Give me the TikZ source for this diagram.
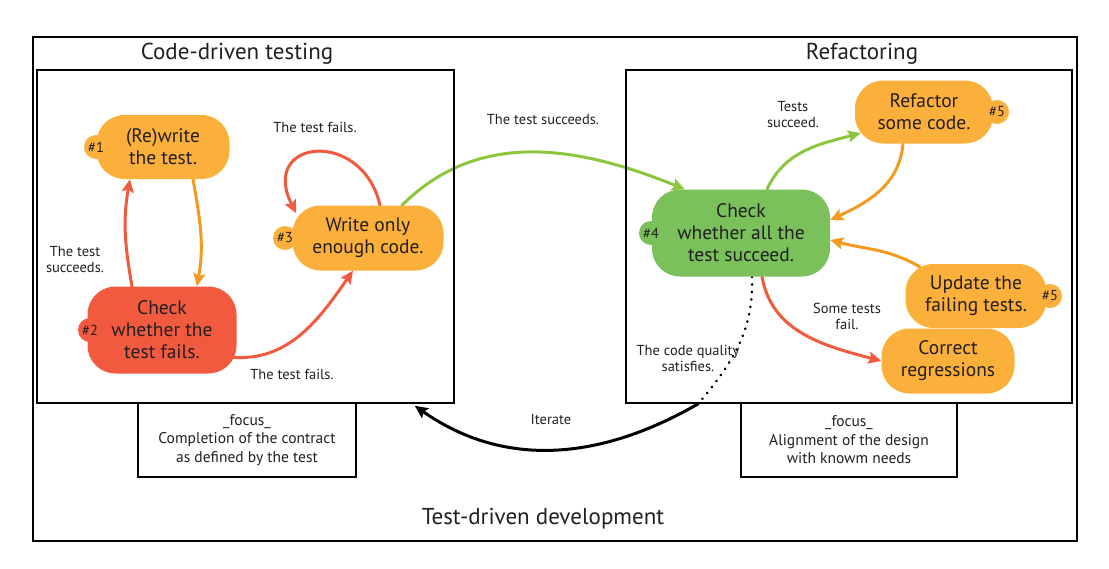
\documentclass[tikz,border=0pt]{standalone}
\usepackage{fontspec}
\setmainfont{PT Sans}
\usepackage{tikz}
\usetikzlibrary{arrows.meta,backgrounds}
\definecolor{orange}{HTML}{FBB03B}
\definecolor{red}{HTML}{F15A3E}
\definecolor{green}{HTML}{7AC15C}
\definecolor{darkorange}{HTML}{F49A20}
\definecolor{lightgreen}{HTML}{8CC63F}
\definecolor{ink}{HTML}{231F20}

\begin{document}
\begin{tikzpicture}[x=1pt, y=-1pt, every path/.style={line cap=round}]

        \tikzset{state/.style = {shape=rectangle, rounded corners=28pt, minimum height=64pt, align=center, inner sep=0pt, text=ink, font=\fontsize{19.5}{22}\selectfont}}
        \tikzset{badge/.style = {shape=circle, minimum size=24pt, inner sep=0pt, text=ink, font=\fontsize{14.5}{15}\selectfont}}
        \tikzset{frame/.style = {draw, line width=1.6pt, inner sep=0pt}}
        \tikzset{note/.style = {align=center, text=ink, font=\fontsize{14.5}{16}\selectfont}}
        \tikzset{focusnote/.style = {align=center, text=ink, font=\fontsize{15.5}{18.5}\selectfont}}
        \tikzset{title/.style = {text=ink, font=\fontsize{23}{26}\selectfont}}
        \tikzset{edge/.style = {line width=3pt, -{Stealth[length=13pt,width=12pt,inset=2.5pt]}}}

        \useasboundingbox (0,0) rectangle (1109,568);

        % frames
        \node[frame, minimum width=1044pt, minimum height=504pt] (tdd) at (555,289) {};
        \node[frame, minimum width=417pt, minimum height=333pt] (cdt) at (245.5,236.5) {};
        \node[frame, minimum width=446pt, minimum height=333pt] (ref) at (849,236.5) {};
        \node[frame, focusnote, minimum width=218pt, minimum height=74pt] (focus1) at (247,440) {\_focus\_\\Completion of the contract\\as defined by the test};
        \node[frame, focusnote, minimum width=216pt, minimum height=74pt] (focus2) at (849,440) {\_focus\_\\Alignment of the design\\with knowm needs};

        \node[title] (t1) at (237,54) {Code-driven testing};
        \node[title] (t2) at (862,54) {Refactoring};
        \node[title] (t3) at (543,519) {Test-driven development};

        % states
        \node[state, fill=orange, minimum width=133pt] (n1) at (163,147) {(Re)write\\the test.};
        \node[badge, fill=orange] (b1) at (96,147) {\#1};
        \node[state, fill=red, minimum width=149pt, minimum height=87pt] (n2) at (162,330) {Check\\whether the\\test fails.};
        \node[badge, fill=red] (b2) at (90,330) {\#2};
        \node[state, fill=orange, minimum width=151pt, minimum height=65pt] (n3) at (368,238) {Write only\\enough code.};
        \node[badge, fill=orange] (b3) at (285,238) {\#3};

        \node[state, fill=green, minimum width=178pt, minimum height=87pt] (n4) at (741,233) {Check\\whether all the\\test succeed.};
        \node[badge, fill=green] (b4) at (651,233) {\#4};
        \node[state, fill=orange, minimum width=138pt, minimum height=63pt] (n5) at (924,112) {Refactor\\some code.};
        \node[badge, fill=orange] (b5) at (997,112) {\#5};
        \node[state, fill=orange, minimum width=141pt] (n6) at (976,296) {Update the\\failing tests.};
        \node[badge, fill=orange] (b6) at (1050,296) {\#5};
        \node[state, fill=orange, minimum width=133pt, minimum height=65pt] (n7) at (948,361) {Correct\\regressions};

        % labels
        \node[note] (l1) at (315,127) {The test fails.};
        \node[note] (l2) at (75,260) {The test\\succeeds.};
        \node[note] (l3) at (292,374) {The test fails.};
        \node[note] (l4) at (543,120) {The test succeeds.};
        \node[note] (l5) at (793,115) {Tests\\succeed.};
        \node[note] (l6) at (847,316) {Some tests\\fail.};
        \node[note] (l7) at (688,358) {The code quality\\satisfies.};
        \node[note] (l8) at (551,420) {Iterate};

        \coordinate (q) at ([xshift=73pt]ref.south west);

        \begin{scope}[on background layer]
        \draw[edge, red] ([xshift=-30pt]n2.north) to [out=100, in=-100] ([xshift=-33pt]n1.south);
        \draw[edge, darkorange] ([xshift=30pt]n1.south) to [out=-80, in=80] ([xshift=35pt]n2.north);
        \draw[edge, red] ([xshift=-6pt]n2.-20) to [out=-5, in=-125] ([xshift=-15pt]n3.south);
        \draw[edge, red] ([xshift=12pt]n3.north) .. controls +(-18,-78) and +(-38,-74) .. ([xshift=4pt,yshift=-8pt]n3.north west);
        \draw[edge, lightgreen] ([xshift=34pt]n3.north) to [out=45, in=158] ([xshift=-56pt]n4.north);

        \draw[edge, lightgreen] ([xshift=26pt]n4.north) to [out=65, in=195] ([xshift=6pt,yshift=-21pt]n5.west);
        \draw[edge, darkorange] ([xshift=-21pt]n5.south) to [out=-95, in=25] ([yshift=13pt]n4.east);
        \draw[edge, darkorange] ([xshift=14.5pt,yshift=-3pt]n6.north west) to [out=150, in=-15] ([yshift=-7pt]n4.east);
        \draw[edge, red] ([xshift=21pt]n4.south) to [out=-80, in=165] (n7.west);

        \draw[line width=2.5pt, dash pattern=on 0.5pt off 7pt] ([xshift=11pt]n4.south) to [out=-88, in=50] (q);
        \draw[edge, black] (q) to [out=210, in=-35] ([xshift=-40pt,yshift=-2pt]cdt.south east);
        \end{scope}
	\end{tikzpicture}
\end{document}
